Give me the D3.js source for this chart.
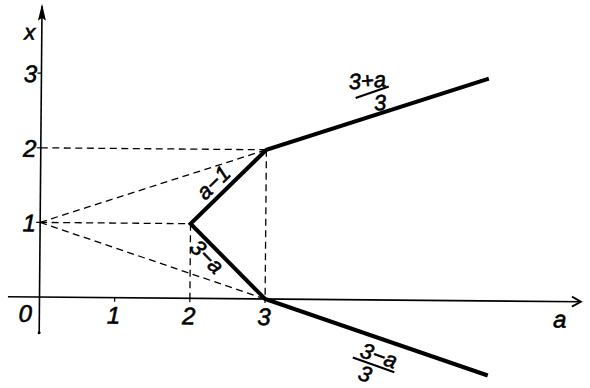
<!DOCTYPE html>
<html>
<head>
<meta charset="utf-8">
<script src="https://cdn.jsdelivr.net/npm/d3@7"></script>
<style>
    html, body { margin: 0; padding: 0; background: #fff; }
    svg { display: block; }
    text { font-family: "Liberation Sans", Arial, sans-serif; font-style: italic; fill: #000; stroke: #000; stroke-width: 0.6px; }
</style>
</head>
<body>
<div id="chart"></div>
<script>
'use strict';

// values
const aTicks = [1, 2, 3];
const xTicks = [1, 2, 3];
const zeroLabel = '0';
const aLabel = 'a';
const xLabel = 'x';

// thick broken line: lower branch end -> (3,0) -> (2,1) -> (3,2) -> upper branch end
const branchA = [5.97, 3, 2, 3, 5.95];
const branchX = [-1.0, 0, 1, 2, 2.98];

// dashed construction lines [a0, x0, a1, x1]
const dashA0 = [0, 0, 0, 0, 2, 3];
const dashX0 = [2, 1, 1, 1, 1, 2];
const dashA1 = [3, 2, 3, 3, 2, 3];
const dashX1 = [2, 1, 2, 0, 0, 0];

const width = 590, height = 388;
const margin = {left: 39.5, top: 297 - 3 * 74.6};

const xs = d3.scaleLinear().domain([0, 6]).range([margin.left, margin.left + 6 * 75.2]);
const ys = d3.scaleLinear().domain([0, 3]).range([297, margin.top]);

const svg = d3.select('#chart').append('svg')
    .attr('width', width)
    .attr('height', height);

// the scan is turned a little clockwise
const plot = svg.append('g')
    .attr('transform', `rotate(0.5, ${xs(0)}, ${ys(0)})`);

// axes
plot.append('line')
    .attr('x1', xs(-0.42)).attr('y1', ys(0))
    .attr('x2', xs(7.2)).attr('y2', ys(0))
    .attr('stroke', '#000').attr('stroke-width', 1.6);
plot.append('path')
    .attr('d', `M${xs(7.2) - 9},${ys(0) - 5} L${xs(7.2)},${ys(0)} L${xs(7.2) - 9},${ys(0) + 5}`)
    .attr('fill', 'none').attr('stroke', '#000').attr('stroke-width', 1.8);

plot.append('line')
    .attr('x1', xs(0)).attr('y1', ys(-0.48))
    .attr('x2', xs(0)).attr('y2', ys(3.9))
    .attr('stroke', '#000').attr('stroke-width', 1.6);
plot.append('path')
    .attr('d', `M${xs(0)},${ys(3.93)} L${xs(0) + 4},${ys(3.93) + 17} L${xs(0)},${ys(3.93) + 14} L${xs(0) - 4},${ys(3.93) + 17}Z`)
    .attr('fill', '#000');
plot.append('circle')
    .attr('cx', xs(0)).attr('cy', ys(-0.48)).attr('r', 1.5).attr('fill', '#000');

// ticks
plot.append('g').selectAll('line')
    .data(aTicks)
    .join('line')
    .attr('x1', d => xs(d)).attr('x2', d => xs(d))
    .attr('y1', ys(0)).attr('y2', ys(0) + 4)
    .attr('stroke', '#000').attr('stroke-width', 1.2);
plot.append('g').selectAll('line')
    .data(xTicks)
    .join('line')
    .attr('x1', xs(0) - 4).attr('x2', xs(0))
    .attr('y1', d => ys(d)).attr('y2', d => ys(d))
    .attr('stroke', '#000').attr('stroke-width', 1.2);

// tick labels
plot.append('g').selectAll('text')
    .data(aTicks)
    .join('text')
    .attr('x', d => xs(d) - 1)
    .attr('y', ys(0) + 26)
    .attr('text-anchor', 'middle')
    .attr('font-size', 24)
    .text(d => d);
plot.append('g').selectAll('text')
    .data(xTicks)
    .join('text')
    .attr('x', xs(0) - 11)
    .attr('y', d => ys(d) + 9)
    .attr('text-anchor', 'middle')
    .attr('font-size', 24)
    .text(d => d);
plot.append('text')
    .attr('x', xs(0) - 14).attr('y', ys(0) + 25)
    .attr('text-anchor', 'middle').attr('font-size', 24)
    .text(zeroLabel);
plot.append('text')
    .attr('x', xs(6.92)).attr('y', ys(0) + 26)
    .attr('text-anchor', 'middle').attr('font-size', 24)
    .text(aLabel);
plot.append('text')
    .attr('x', xs(-0.16)).attr('y', ys(3.45))
    .attr('text-anchor', 'middle').attr('font-size', 22)
    .text(xLabel);

// dashed lines
plot.append('g')
    .attr('stroke', '#000')
    .attr('stroke-width', 1.3)
    .attr('stroke-dasharray', '7,4.5')
    .selectAll('line')
    .data(d3.range(dashA0.length))
    .join('line')
    .attr('x1', i => xs(dashA0[i])).attr('y1', i => ys(dashX0[i]))
    .attr('x2', i => xs(dashA1[i])).attr('y2', i => ys(dashX1[i]));

// thick line
plot.append('path')
    .datum(d3.range(branchA.length))
    .attr('fill', 'none')
    .attr('stroke', '#000')
    .attr('stroke-width', 4)
    .attr('stroke-linejoin', 'miter')
    .attr('d', d3.line().x(i => xs(branchA[i])).y(i => ys(branchX[i])));

// labels along the segments
const slope = Math.atan2(ys(2) - ys(1), xs(3) - xs(2)) * 180 / Math.PI;

plot.append('g')
    .attr('transform', `translate(${xs(2.5)},${ys(1.5)}) rotate(${slope})`)
    .append('text')
    .attr('x', -8).attr('y', -6)
    .attr('text-anchor', 'middle').attr('font-size', 22)
    .text('a\u2212\u0031');

plot.append('g')
    .attr('transform', `translate(${xs(2.5)},${ys(0.5)}) rotate(${-slope})`)
    .append('text')
    .attr('x', -18).attr('y', 19)
    .attr('text-anchor', 'middle').attr('font-size', 22)
    .text('3\u2212a');

// fraction labels
const up = plot.append('g')
    .attr('transform', `translate(${xs(4.4)},${ys(2.79)}) rotate(-5)`);
up.append('text')
    .attr('x', -4).attr('y', -4)
    .attr('text-anchor', 'middle').attr('font-size', 22)
    .text('3+a');
up.append('line')
    .attr('x1', -17).attr('y1', 5).attr('x2', 17).attr('y2', -4)
    .attr('stroke', '#000').attr('stroke-width', 2.2);
up.append('text')
    .attr('x', 7).attr('y', 19)
    .attr('text-anchor', 'middle').attr('font-size', 22)
    .text('3');

const down = plot.append('g')
    .attr('transform', `translate(${xs(4.45)},${ys(-0.87)}) rotate(19)`);
down.append('text')
    .attr('x', 2).attr('y', -3)
    .attr('text-anchor', 'middle').attr('font-size', 22)
    .text('3\u2212a');
down.append('line')
    .attr('x1', -22).attr('y1', 0).attr('x2', 22).attr('y2', 0)
    .attr('stroke', '#000').attr('stroke-width', 2.2);
down.append('text')
    .attr('x', -5).attr('y', 19)
    .attr('text-anchor', 'middle').attr('font-size', 22)
    .text('3');
</script>
</body>
</html>
